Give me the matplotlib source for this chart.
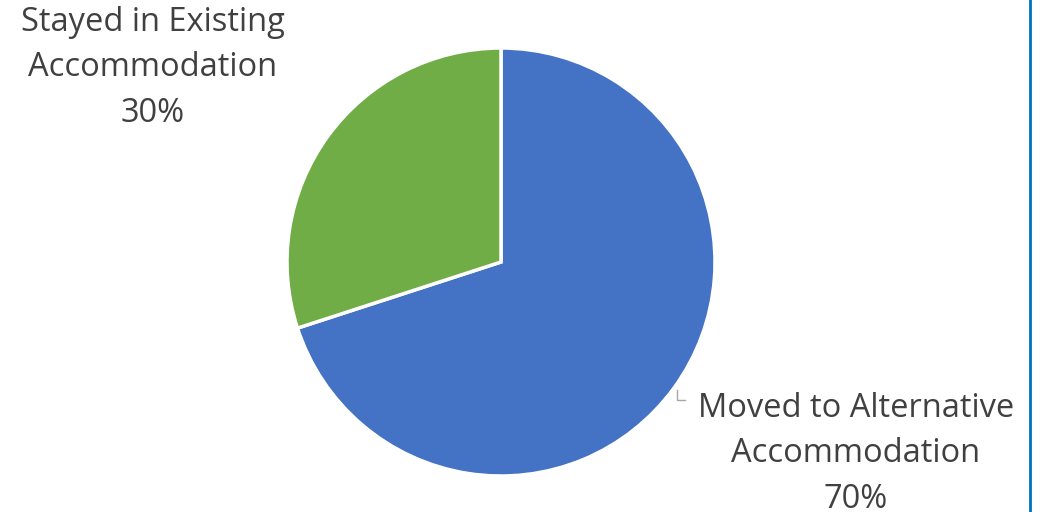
import matplotlib
matplotlib.use('Agg')
import matplotlib.pyplot as plt

labels = ['Moved to Alternative\nAccommodation', 'Stayed in Existing\nAccommodation']
shares = [70, 30]
colors = ['#4472C4', '#70AD47']

W, H = 1049, 512
fig = plt.figure(figsize=(W / 100, H / 100), dpi=100)
ax = fig.add_axes([0, 0, 1, 1])
ax.set_xlim(0, W)
ax.set_ylim(0, H)
ax.set_aspect('equal')
ax.axis('off')

ax.pie(shares, colors=colors, startangle=90, counterclock=False,
       center=(501, H - 262), radius=214,
       wedgeprops=dict(edgecolor='white', linewidth=2.5))
ax.set_xlim(0, W)
ax.set_ylim(0, H)

txt = dict(fontsize=23.5, color='#404040', ha='center', va='center',
           family='Open Sans', linespacing=1.5)
ax.text(153, H - 68, f'{labels[1]}\n{shares[1]}%', **txt)
ax.text(856, H - 454, f'{labels[0]}\n{shares[0]}%', **txt)

# leader line
ax.plot([677, 677, 685], [H - 390, H - 400, H - 400], color='#A6A6A6', lw=1)

# right border
ax.plot([1030, 1030], [0, H], color='#0070C0', lw=2)

fig.savefig('out.png', dpi=100)
